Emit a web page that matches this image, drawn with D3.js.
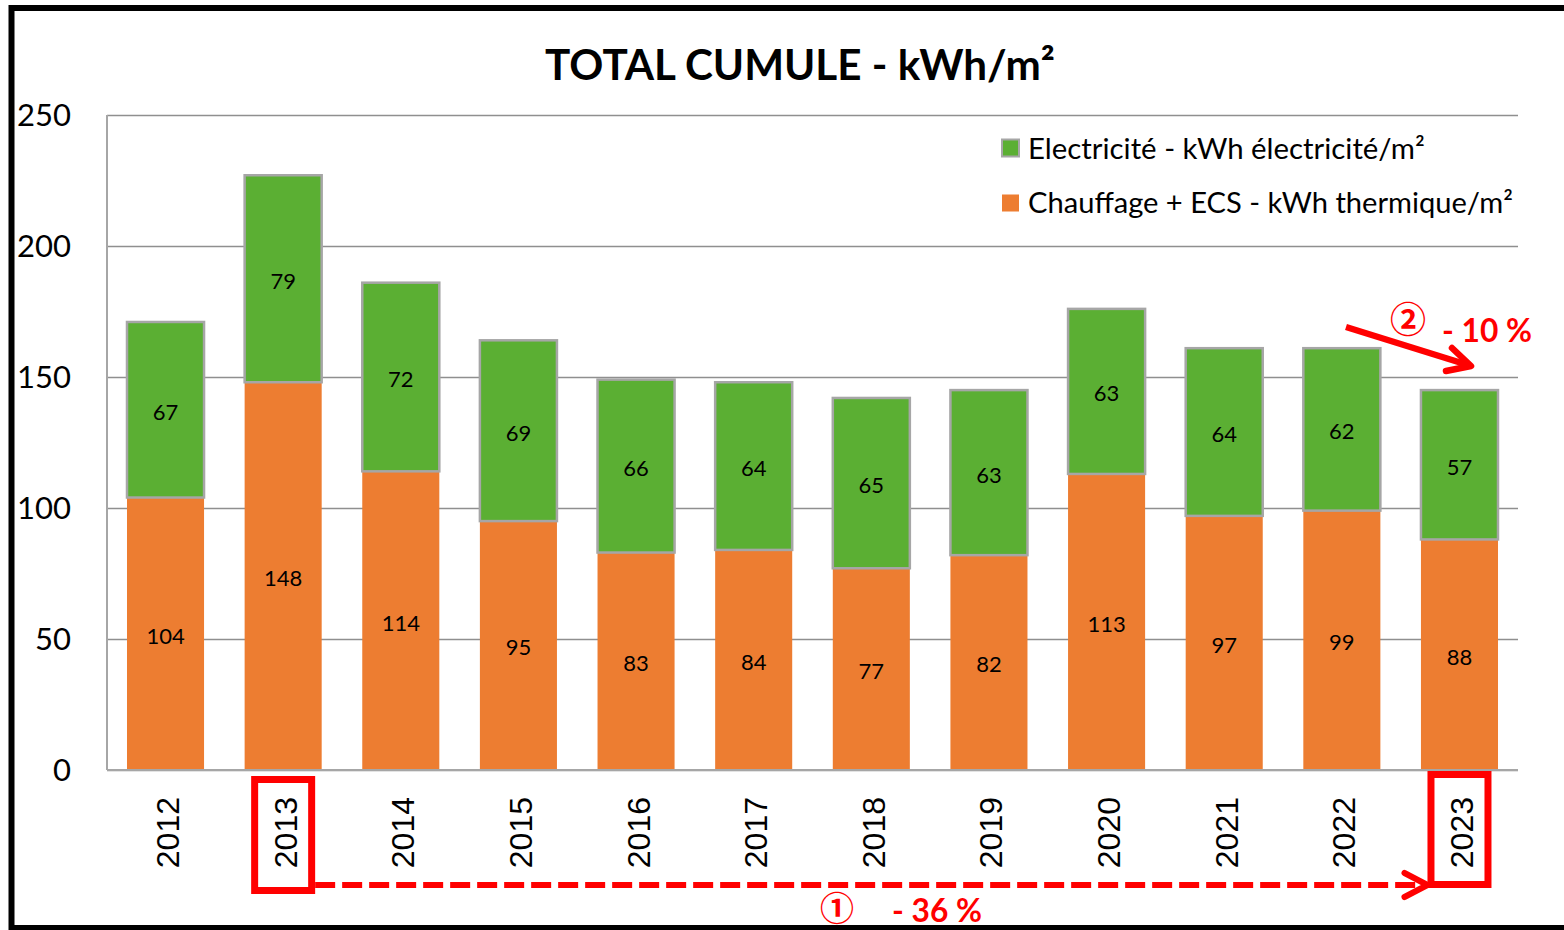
<!DOCTYPE html>
<html>
<head>
<meta charset="utf-8">
<script src="https://cdn.jsdelivr.net/npm/d3@7"></script>
<style>
  html, body { margin: 0; padding: 0; background: #fff; }
  svg { display: block; }
</style>
</head>
<body>
<svg id="chart" width="1564" height="930"></svg>
<script>
const years = ['2012','2013','2014','2015','2016','2017','2018','2019','2020','2021','2022','2023'];
const chauffage = [104,148,114,95,83,84,77,82,113,97,99,88];
const electricite = [67,79,72,69,66,64,65,63,63,64,62,57];
const yTicks = [0,50,100,150,200,250];
const seriesNames = ['Electricité - kWh électricité/m²', 'Chauffage + ECS - kWh thermique/m²'];
const titleText = 'TOTAL CUMULE - kWh/m²';
const highlightYears = ['2013','2023'];
const note1 = ['①', '- 36 %'];
const note2 = ['②', '- 10 %'];

const GREEN = '#5BAF33', ORANGE = '#ED7D31', RED = '#FF0000';
const CAL = 'Lato, "Open Sans", sans-serif';
const ARIAL = '"Liberation Sans", Arial, sans-serif';

const svg = d3.select('#chart');
const L = 107, R = 1518, T = 115, B = 770;

function fit(sel, w) {
  const n = sel.node();
  const cur = n.getComputedTextLength();
  const fs = parseFloat(sel.attr('font-size'));
  sel.attr('font-size', (fs * w / cur).toFixed(2));
  return sel;
}

const x = d3.scaleBand().domain(years).range([L, R]).paddingInner(0.345).paddingOuter(0.17);
const y = d3.scaleLinear().domain([0, 250]).range([B, T]);

// outer black frame
svg.append('rect').attr('x', 11.5).attr('y', 8).attr('width', 1600).attr('height', 920)
  .attr('fill', 'none').attr('stroke', '#000').attr('stroke-width', 6);

// title
const title = svg.append('text').attr('x', 800).attr('y', 80).attr('text-anchor', 'middle')
  .attr('font-family', CAL).attr('font-weight', 700).attr('font-size', 40).attr('fill', '#000')
  .text(titleText);
fit(title, 510);

// gridlines
const grid = svg.append('g').attr('transform', `translate(${L},0)`)
  .call(d3.axisLeft(y).tickValues(yTicks).tickSize(-(R - L)).tickFormat(''));
grid.select('.domain').remove();
grid.selectAll('line').attr('stroke', '#8F8F8F').attr('stroke-width', 1.5);

// left axis line
svg.append('line').attr('x1', L).attr('x2', L).attr('y1', T).attr('y2', B)
  .attr('stroke', '#A6A6A6').attr('stroke-width', 2);

// y labels
const yAx = svg.append('g').attr('transform', `translate(${L},0)`)
  .call(d3.axisLeft(y).tickValues(yTicks).tickSize(0).tickPadding(36));
yAx.select('.domain').remove();
yAx.selectAll('text').attr('font-family', CAL).attr('font-size', 31).attr('fill', '#000').attr('dy', '0.34em');

// bars
const bw = x.bandwidth();
const g = svg.append('g');
g.selectAll('rect.ch').data(years).join('rect').attr('class', 'ch')
  .attr('x', d => x(d)).attr('width', bw)
  .attr('y', (d, i) => y(chauffage[i])).attr('height', (d, i) => y(0) - y(chauffage[i]))
  .attr('fill', ORANGE);
g.selectAll('rect.el').data(years).join('rect').attr('class', 'el')
  .attr('x', d => x(d)).attr('width', bw)
  .attr('y', (d, i) => y(chauffage[i] + electricite[i]))
  .attr('height', (d, i) => y(chauffage[i]) - y(chauffage[i] + electricite[i]))
  .attr('fill', GREEN).attr('stroke', '#A6A6A6').attr('stroke-width', 2.5);

// bottom axis line
svg.append('line').attr('x1', L).attr('x2', R).attr('y1', B).attr('y2', B)
  .attr('stroke', '#A6A6A6').attr('stroke-width', 2);

// data labels
g.selectAll('text.lch').data(years).join('text').attr('class', 'lch')
  .attr('x', d => x(d) + bw / 2).attr('y', (d, i) => y(chauffage[i] / 2)).attr('dy', '0.45em')
  .attr('text-anchor', 'middle').attr('font-family', CAL).attr('font-size', 22).attr('fill', '#000')
  .text((d, i) => chauffage[i]);
g.selectAll('text.lel').data(years).join('text').attr('class', 'lel')
  .attr('x', d => x(d) + bw / 2).attr('y', (d, i) => y(chauffage[i] + electricite[i] / 2)).attr('dy', '0.45em')
  .attr('text-anchor', 'middle').attr('font-family', CAL).attr('font-size', 22).attr('fill', '#000')
  .text((d, i) => electricite[i]);

// x labels
svg.append('g').selectAll('text').data(years).join('text')
  .attr('transform', d => `translate(${x(d) + bw / 2},797) rotate(-90)`)
  .attr('text-anchor', 'end').attr('dy', '0.42em')
  .attr('font-family', ARIAL).attr('font-size', 32).attr('fill', '#000')
  .text(d => d);

// legend
const leg = svg.append('g');
[[GREEN, 148, true], [ORANGE, 203, false]].forEach(([c, cy, st], i) => {
  leg.append('rect').attr('x', 1002).attr('y', cy - 8.5).attr('width', 17).attr('height', 17)
    .attr('fill', c).attr('stroke', st ? '#A6A6A6' : 'none').attr('stroke-width', 2);
  const t = leg.append('text').attr('x', 1028).attr('y', cy).attr('dy', '0.36em')
    .attr('font-family', CAL).attr('font-size', 26).attr('fill', '#000').text(seriesNames[i]);
  fit(t, i === 0 ? 397 : 485);
});

// highlight boxes
const boxY = { '2013': [779.5, 890.5], '2023': [774.5, 884.5] };
const ann = svg.append('g');
highlightYears.forEach(yr => {
  const cx = x(yr) + bw / 2;
  ann.append('rect').attr('x', cx - 28.5).attr('y', boxY[yr][0]).attr('width', 57)
    .attr('height', boxY[yr][1] - boxY[yr][0])
    .attr('fill', 'none').attr('stroke', RED).attr('stroke-width', 7);
});

// dashed arrow 2013 -> 2023
const xA = x('2013') + bw / 2 + 32, xB = x('2023') + bw / 2 - 32;
ann.append('line').attr('x1', xA).attr('x2', xB - 4).attr('y1', 885).attr('y2', 885)
  .attr('stroke', RED).attr('stroke-width', 6).attr('stroke-dasharray', '20 7');
ann.append('path').attr('d', `M${xB - 23},873 L${xB},885 L${xB - 23},897`)
  .attr('fill', 'none').attr('stroke', RED).attr('stroke-width', 6)
  .attr('stroke-linecap', 'round').attr('stroke-linejoin', 'round');

// solid arrow 2022 -> 2023
ann.append('line').attr('x1', 1346).attr('y1', 327).attr('x2', 1468).attr('y2', 365)
  .attr('stroke', RED).attr('stroke-width', 6.5);
ann.append('path').attr('d', 'M1452,348 L1471,366 L1446,371')
  .attr('fill', 'none').attr('stroke', RED).attr('stroke-width', 6.5)
  .attr('stroke-linecap', 'round').attr('stroke-linejoin', 'round');

// annotation texts
ann.append('text').attr('x', 1408).attr('y', 320).attr('dy', '0.36em').attr('text-anchor', 'middle')
  .attr('font-family', '"Noto Sans CJK JP", "DejaVu Sans"').attr('font-weight', 700)
  .attr('font-size', 36).attr('fill', RED).text(note2[0]);
const t2 = ann.append('text').attr('x', 1442).attr('y', 342)
  .attr('font-family', CAL).attr('font-weight', 700).attr('font-size', 33).attr('fill', RED).text(note2[1]);
fit(t2, 90);
ann.append('text').attr('x', 837).attr('y', 909).attr('dy', '0.36em').attr('text-anchor', 'middle')
  .attr('font-family', '"Noto Sans CJK JP", "DejaVu Sans"').attr('font-weight', 700)
  .attr('font-size', 34).attr('fill', RED).text(note1[0]);
const t1 = ann.append('text').attr('x', 892).attr('y', 922)
  .attr('font-family', CAL).attr('font-weight', 700).attr('font-size', 33).attr('fill', RED).text(note1[1]);
fit(t1, 90);
</script>
</body>
</html>
